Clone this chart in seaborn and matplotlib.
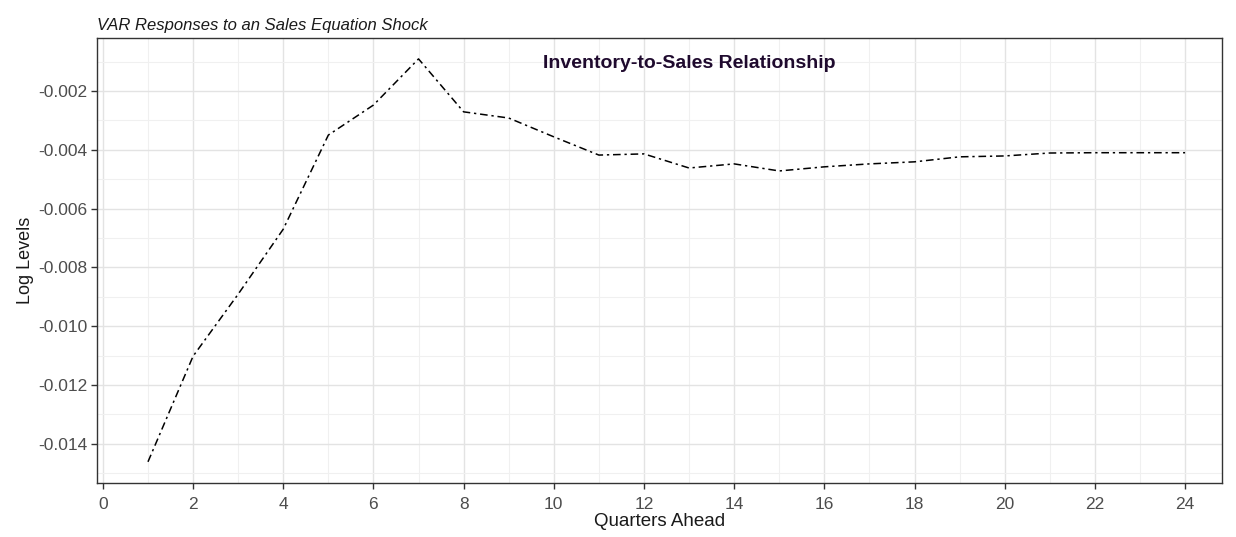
import matplotlib
matplotlib.use("Agg")
import matplotlib.pyplot as plt
from matplotlib.ticker import MultipleLocator, FormatStrFormatter
import seaborn as sns
import pandas as pd

# Impulse response of the inventory-to-sales ratio to a sales shock
quarters = list(range(1, 25))
response = [-0.01461, -0.01102, -0.00891, -0.00670, -0.00350, -0.00248,
            -0.00091, -0.00271, -0.00292, -0.00356, -0.00418, -0.00414,
            -0.00462, -0.00448, -0.00472, -0.00458, -0.00448, -0.00441,
            -0.00424, -0.00421, -0.00411, -0.00410, -0.00410, -0.00410]

title = "VAR Responses to an Sales Equation Shock"
annotation = "Inventory-to-Sales Relationship"
x_label = "Quarters Ahead"
y_label = "Log Levels"

df = pd.DataFrame({"quarter": quarters, "response": response})

sns.set_theme(style="whitegrid")
plt.rcParams["font.family"] = ["Liberation Sans", "DejaVu Sans"]

fig = plt.figure(figsize=(12.36, 5.37), dpi=100)
ax = fig.add_axes([0.0785, 0.1006, 0.9102, 0.8286])
ax.set_facecolor("white")

sns.lineplot(data=df, x="quarter", y="response", ax=ax, color="black",
             linewidth=1.1, dashes=False)
ax.lines[0].set_dashes([5, 2.5, 1.5, 2.5])

ax.set_xlim(-0.13, 24.82)
ax.set_ylim(-0.01533, -0.0002)

ax.xaxis.set_major_locator(MultipleLocator(2))
ax.xaxis.set_minor_locator(MultipleLocator(1))
ax.yaxis.set_major_locator(MultipleLocator(0.002))
ax.yaxis.set_minor_locator(MultipleLocator(0.001))
ax.yaxis.set_major_formatter(FormatStrFormatter("%.3f"))

ax.grid(which="major", color="#e3e3e3", linewidth=1.0)
ax.grid(which="minor", color="#f0f0f0", linewidth=0.8)
ax.set_axisbelow(True)

for s in ax.spines.values():
    s.set_color("#333333")
    s.set_linewidth(1.0)

ax.tick_params(axis="both", which="major", length=4, width=1.0,
               color="#333333", labelsize=12.5, labelcolor="#4d4d4d",
               bottom=True, left=True)
ax.tick_params(axis="x", which="major", pad=6)
ax.tick_params(axis="y", which="major", pad=3)
ax.tick_params(axis="both", which="minor", length=0)

ax.set_xlabel(x_label, fontsize=13.5, color="#1a1a1a", labelpad=1)
ax.set_ylabel(y_label, fontsize=13, color="#1a1a1a", labelpad=3)
ax.set_title(title, loc="left", fontsize=12, style="italic",
             color="#1a1a1a", pad=6)

ax.text(13, -0.00105, annotation, ha="center", va="center",
        fontsize=14, fontweight="bold", color="#1f0a2e")

fig.savefig("out.png", dpi=100)
